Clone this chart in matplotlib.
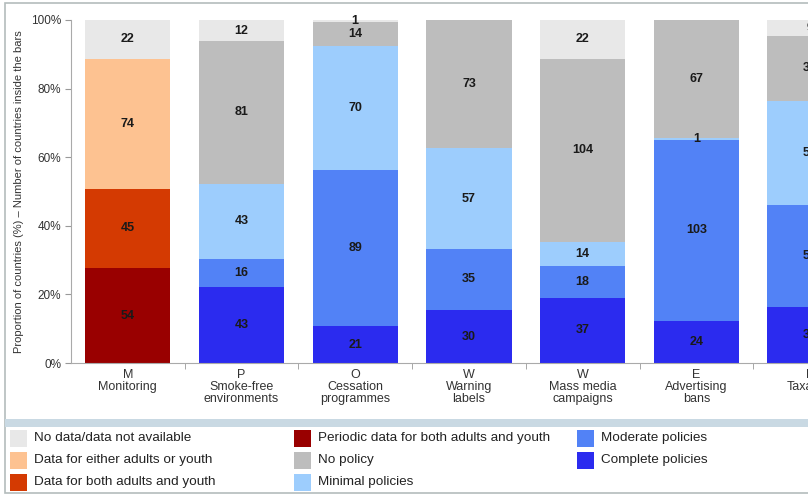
import numpy as np
import matplotlib.pyplot as plt
from matplotlib.patches import Rectangle

plt.rcParams['font.family'] = ['Liberation Sans', 'DejaVu Sans']

# %% Data: number of countries per MPOWER measure

categories = ["M\nMonitoring", "P\nSmoke-free\nenvironments", "O\nCessation\nprogrammes",
              "W\nWarning\nlabels", "W\nMass media\ncampaigns", "E\nAdvertising\nbans",
              "R\nTaxation"]

periodic = [54, 0, 0, 0, 0, 0, 0]
both = [45, 0, 0, 0, 0, 0, 0]
either = [74, 0, 0, 0, 0, 0, 0]
complete = [0, 43, 21, 30, 37, 24, 32]
moderate = [0, 16, 89, 35, 18, 103, 58]
minimal = [0, 43, 70, 57, 14, 1, 59]
no_policy = [0, 81, 14, 73, 104, 67, 37]
no_data = [22, 12, 1, 0, 22, 0, 9]

# bottom-to-top stacking order
stack = [
    (periodic, "Periodic data for both adults and youth", "#990000"),
    (both, "Data for both adults and youth", "#d43a02"),
    (either, "Data for either adults or youth", "#fdc291"),
    (complete, "Complete policies", "#2b2bef"),
    (moderate, "Moderate policies", "#5282f6"),
    (minimal, "Minimal policies", "#9dcdfd"),
    (no_policy, "No policy", "#bdbdbd"),
    (no_data, "No data/data not available", "#e8e8e8"),
]

legend_order = ["No data/data not available", "Data for either adults or youth",
                "Data for both adults and youth", "Periodic data for both adults and youth",
                "No policy", "Minimal policies", "Moderate policies", "Complete policies"]

# %% Figure

W, H = 808, 496
fig = plt.figure(figsize=(W / 100, H / 100), dpi=100)

# outer frame and separator band (behind the axes)
fig.add_artist(Rectangle((5 / W, 3 / H), 1, (H - 6) / H, transform=fig.transFigure,
                         facecolor='white', edgecolor='#b4bcbc', linewidth=1.2,
                         zorder=-10))
fig.add_artist(Rectangle((5 / W, (H - 427) / H), 1, 8 / H, transform=fig.transFigure,
                         facecolor='#c9d9e3', edgecolor='none', zorder=-9))

unit = 113.7
ax = fig.add_axes([71 / W, (H - 363) / H, 7 * unit / W, 343 / H])
ax.patch.set_alpha(0)

x = np.arange(len(categories))
totals = np.sum([np.array(s[0]) for s in stack], axis=0)
bottom = np.zeros(len(categories))
for values, label, color in stack:
    vals = np.array(values, dtype=float)
    pct = vals / totals * 100
    ax.bar(x, pct, width=0.75, bottom=bottom, color=color, label=label, linewidth=0)
    for xi, v, b, p in zip(x, vals, bottom, pct):
        if v > 0:
            ax.text(xi, b + p / 2, f"{int(v)}", ha='center', va='center',
                    fontsize=9, fontweight='bold', color='#1a1a1a')
    bottom += pct

ax.set_xlim(-0.5, len(categories) - 0.5)
ax.set_ylim(0, 100)
ax.set_yticks(np.arange(0, 101, 20))
ax.set_yticklabels([f"{v}%" for v in range(0, 101, 20)], fontsize=8.5, color='#333333')
ax.set_xticks(x)
ax.set_xticklabels(categories, fontsize=9, color='#333333', linespacing=1.05)
ax.set_xticks(np.arange(0.5, len(categories) - 0.5, 1), minor=True)
ax.tick_params(axis='x', which='major', length=0, pad=4)
ax.tick_params(axis='x', which='minor', length=4, color='#999999')
ax.tick_params(axis='y', length=4, color='#999999', pad=3)
for s in ['top', 'right']:
    ax.spines[s].set_visible(False)
for s in ['left', 'bottom']:
    ax.spines[s].set_color('#aaaaaa')
ax.set_ylabel("Proportion of countries (%) \u2013 Number of countries inside the bars",
              fontsize=8, color='#333333', labelpad=5)

# %% Legend
handles = {label: color for _, label, color in stack}
for i, label in enumerate(legend_order):
    col, row = i // 3, i % 3
    x0 = 10 + col * 283.5
    yc = 438 + row * 22
    fig.add_artist(Rectangle((x0 / W, (H - yc - 8.5) / H), 17 / W, 17 / H,
                             transform=fig.transFigure, facecolor=handles[label],
                             edgecolor='none'))
    fig.text((x0 + 24) / W, (H - yc) / H, label, fontsize=9.7, color='#222222',
             va='center', ha='left')

fig.savefig("out.png", dpi=100)
